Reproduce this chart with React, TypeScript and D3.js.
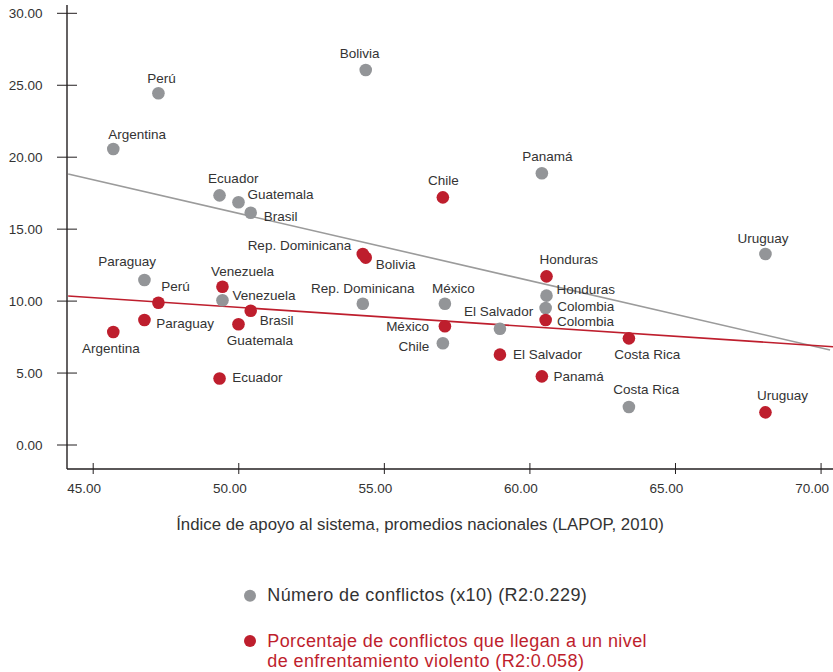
import React from "react";
import * as d3 from "d3";

// ---------- data ----------
const countries = [
  "Argentina", "Perú", "Bolivia", "Ecuador", "Guatemala", "Brasil", "Panamá", "Uruguay", "Paraguay",
  "Venezuela", "Rep. Dominicana", "México", "Chile", "El Salvador", "Honduras", "Colombia", "Costa Rica",
];
const apoyo = [45.69, 47.24, 54.36, 49.34, 49.99, 50.41, 60.41, 68.09, 46.76, 49.44, 54.26, 57.08, 57.01, 58.97, 60.57, 60.54, 63.40];
const numeroConflictos = [20.57, 24.44, 26.06, 17.35, 16.87, 16.14, 18.88, 13.27, 11.47, 10.06, 9.82, 9.82, 7.07, 8.08, 10.38, 9.52, 2.64];
const porcentajeViolento = [7.85, 9.89, 13.02, 4.62, 8.39, 9.33, 4.77, 2.27, 8.69, 11.0, 13.27, 8.25, 17.21, 6.28, 11.72, 8.69, 7.41];

const xTicks = [45, 50, 55, 60, 65, 70];
const yTicks = [0, 5, 10, 15, 20, 25, 30];

// trend lines: [x, y] end points
const grayFitX = [44.14, 70.31];
const grayFitY = [18.83, 6.6];
const redFitX = [44.14, 70.41];
const redFitY = [10.35, 6.83];

const xTitle = "Índice de apoyo al sistema, promedios nacionales (LAPOP, 2010)";
const legendGray = "Número de conflictos (x10) (R2:0.229)";
const legendRed = ["Porcentaje de conflictos que llegan a un nivel", "de enfrentamiento violento (R2:0.058)"];

// ---------- label layout (anchor, dx, dy) ----------
type Lab = [string, number, number];
const grayLabels: Lab[] = [
  ["start", -5, -10], ["middle", 3, -10], ["middle", -6, -11.7], ["middle", 13.7, -12], ["start", 9, -3],
  ["start", 13, 8.3], ["middle", 5.6, -12.6], ["middle", -2.4, -11.3], ["middle", -17.3, -14],
  ["start", 10, 0], ["middle", 0, -11], ["middle", 8.4, -11], ["end", -13.7, 7.4], ["middle", -1.3, -12.7],
  ["start", 10, -1.7], ["start", 11.6, 3], ["middle", 17.4, -13],
];
const redLabels: Lab[] = [
  ["middle", -2.5, 21.3], ["middle", 17, -11.7], ["start", 10, 11.6], ["start", 12.7, 3.8], ["middle", 21.4, 20.7],
  ["start", 9, 14], ["start", 11.6, 4.7], ["middle", 17, -12.3], ["start", 11.7, 8.3],
  ["middle", 20, -11], ["end", -11.6, -4], ["end", -16, 4.7], ["middle", 0.5, -12.3], ["start", 13, 4.3],
  ["middle", 22.3, -12.3], ["start", 11.4, 6], ["middle", 18.4, 21],
];

const GRAY = "#939598";
const RED = "#be1e2d";
const TEXT = "#333333";
const AXIS = "#231f20";
const FONT = "'Liberation Sans', Arial, Helvetica, sans-serif";

export default function App() {
  const x = d3.scaleLinear().domain([44.1, 70.41]).range([67, 833]);
  const y = d3.scaleLinear().domain([0, 30]).range([445, 13.3]);
  const axisY = 469;
  const axisX = 67;
  const line = d3.line<[number, number]>().x((d) => x(d[0])).y((d) => y(d[1]));
  const grayFit = grayFitX.map((v, i) => [v, grayFitY[i]] as [number, number]);
  const redFit = redFitX.map((v, i) => [v, redFitY[i]] as [number, number]);

  return (
    <svg width={833} height={672} style={{ position: "absolute", left: 0, top: 0, background: "#fff" }} fontFamily={FONT}>
      {/* axes */}
      <line x1={axisX} x2={axisX} y1={5} y2={axisY} stroke={AXIS} strokeWidth={1.4} />
      <line x1={axisX} x2={833} y1={axisY} y2={axisY} stroke={AXIS} strokeWidth={1.4} />
      {yTicks.map((t) => (
        <g key={"y" + t}>
          <line x1={57} x2={77} y1={y(t)} y2={y(t)} stroke={AXIS} strokeWidth={1} />
          <text x={42.5} y={y(t) + 4.8} textAnchor="end" fontSize={13.5} fill={TEXT}>
            {t.toFixed(2)}
          </text>
        </g>
      ))}
      {xTicks.map((t) => (
        <g key={"x" + t}>
          <line x1={x(t)} x2={x(t)} y1={463} y2={474} stroke={AXIS} strokeWidth={1} />
          <text x={x(t) - 9} y={493} textAnchor="middle" fontSize={13.5} fill={TEXT}>
            {t.toFixed(2)}
          </text>
        </g>
      ))}
      <text x={420} y={530} textAnchor="middle" fontSize={16.8} fill={TEXT}>
        {xTitle}
      </text>

      {/* trend lines */}
      <path d={line(grayFit) || ""} stroke="#9b9b9b" strokeWidth={1.6} fill="none" />
      <path d={line(redFit) || ""} stroke={RED} strokeWidth={1.6} fill="none" />

      {/* gray points */}
      {countries.map((c, i) => (
        <circle key={"gp" + c} cx={x(apoyo[i])} cy={y(numeroConflictos[i])} r={6.3} fill={GRAY} />
      ))}
      {/* red points */}
      {countries.map((c, i) => (
        <circle key={"rp" + c} cx={x(apoyo[i])} cy={y(porcentajeViolento[i])} r={6.3} fill={RED} />
      ))}
      {/* labels */}
      {countries.map((c, i) => {
        const [a, dx, dy] = grayLabels[i];
        return (
          <text key={"gl" + c} x={x(apoyo[i]) + dx} y={y(numeroConflictos[i]) + dy} textAnchor={a as any} fontSize={13.5} fill={TEXT}>
            {c}
          </text>
        );
      })}
      {countries.map((c, i) => {
        const [a, dx, dy] = redLabels[i];
        return (
          <text key={"rl" + c} x={x(apoyo[i]) + dx} y={y(porcentajeViolento[i]) + dy} textAnchor={a as any} fontSize={13.5} fill={TEXT}>
            {c}
          </text>
        );
      })}

      {/* legend */}
      <circle cx={250} cy={595.7} r={6} fill={GRAY} />
      <text x={267.3} y={600.7} fontSize={18} letterSpacing={0.4} fill={TEXT}>
        {legendGray}
      </text>
      <circle cx={250} cy={641} r={6} fill={RED} />
      {legendRed.map((s, i) => (
        <text key={"lr" + i} x={267.3} y={647.3 + i * 19.4} fontSize={18} letterSpacing={0.4} fill={RED}>
          {s}
        </text>
      ))}
    </svg>
  );
}
